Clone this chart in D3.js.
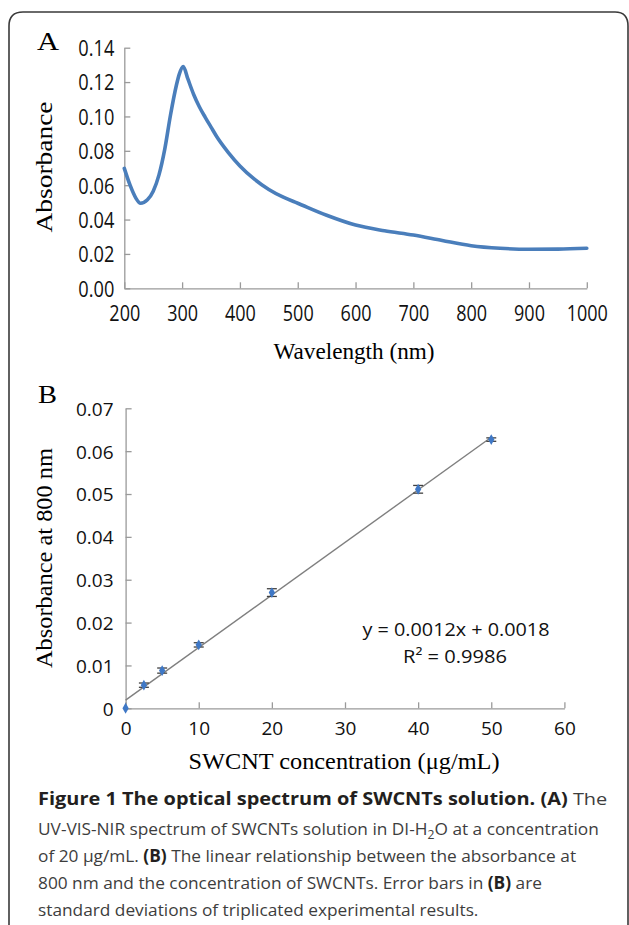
<!DOCTYPE html>
<html><head><meta charset="utf-8">
<script src="https://cdn.jsdelivr.net/npm/d3@7"></script>
<style>
html,body{margin:0;padding:0;background:#fff;}
svg{display:block;}
</style></head>
<body>
<svg id="c" width="629" height="925"></svg>
<script>
// ---------- DATA ----------
// Panel A: UV-VIS-NIR spectrum
const wavelength = [200,210,220,228,240,250,260,270,280,290,295,302,310,320,330,340,350,360,380,400,425,450,475,500,550,600,650,700,750,800,850,900,950,1000];
const absorbance = [0.0698,0.060,0.0525,0.0495,0.0515,0.0565,0.066,0.081,0.101,0.118,0.1245,0.129,0.1218,0.1128,0.1055,0.0995,0.0938,0.0882,0.079,0.0712,0.0635,0.0575,0.053,0.0495,0.0425,0.0368,0.0335,0.031,0.0278,0.0248,0.0233,0.0227,0.0228,0.0233];
const aXTicks = [200,300,400,500,600,700,800,900,1000];
const aYTicks = [0,0.02,0.04,0.06,0.08,0.10,0.12,0.14];
// Panel B: calibration
const concentration = [0,2.5,5,10,20,40,50];
const abs800 = [0,0.0054,0.0088,0.0148,0.0270,0.0511,0.0627];
const abs800Err = [0,0.0005,0.0006,0.0005,0.0009,0.0009,0.0004];
const bXTicks = [0,10,20,30,40,50,60];
const bYTicks = [0,0.01,0.02,0.03,0.04,0.05,0.06,0.07];
const eqLabel = "y = 0.0012x + 0.0018";
const r2Label = "R² = 0.9986";
const captionLines = [
  [["Figure 1 The optical spectrum of SWCNTs solution. ",true],["(A)",true],[" The",false]],
  [["UV-VIS-NIR spectrum of SWCNTs solution in DI-H",false],["2",false,"sub"],["O at a concentration",false,"after"]],
  [["of 20 μg/mL. ",false],["(B)",true],[" The linear relationship between the absorbance at",false]],
  [["800 nm and the concentration of SWCNTs. Error bars in ",false],["(B)",true],[" are",false]],
  [["standard deviations of triplicated experimental results.",false]]
];

// ---------- DRAW ----------
const svg = d3.select("#c");
svg.append("rect").attr("width",629).attr("height",925).attr("fill","#fff");

// frame
svg.append("path")
  .attr("d","M9,930 L9,26 Q9,12 23,12 L615,12 Q628,12 628,26 L628,930")
  .attr("fill","none").attr("stroke","#3a3a3a").attr("stroke-width",1.6);

function fit(sel, w){
  sel.attr("textLength", w).attr("lengthAdjust","spacingAndGlyphs");
}
const axisCol = "#9a9a9a";
function styleAxis(g){
  g.select(".domain").attr("stroke",axisCol).attr("stroke-width",1.3);
  g.selectAll(".tick line").attr("stroke",axisCol).attr("stroke-width",1.3);
  g.selectAll("text").attr("fill","#111");
}

// ----- Panel A -----
const ax = d3.scaleLinear().domain([200,1000]).range([124.3,586.8]);
const ay = d3.scaleLinear().domain([0,0.14]).range([288.3,47.7]);
const gA = svg.append("g");

const gAy = gA.append("g").attr("transform",`translate(${ax(200)},0)`)
  .call(d3.axisLeft(ay).tickValues(aYTicks).tickFormat(d3.format(".2f")).tickSizeInner(-6).tickSizeOuter(0).tickPadding(10));
styleAxis(gAy);
gAy.selectAll("text").attr("font-family","'Open Sans', sans-serif").attr("font-size",22).attr("dy","0.36em")
  .each(function(){ fit(d3.select(this), 36); });

const gAx = gA.append("g").attr("transform",`translate(0,${ay(0)})`)
  .call(d3.axisBottom(ax).tickValues(aXTicks).tickFormat(d3.format("d")).tickSizeInner(-6).tickSizeOuter(0).tickPadding(10));
styleAxis(gAx);
gAx.selectAll("text").attr("font-family","'Open Sans', sans-serif").attr("font-size",22).attr("y",25).attr("dy","0.36em")
  .each(function(d){ fit(d3.select(this), String(d).length*10.3); });

gA.append("path").datum(wavelength.map((w,i)=>[w,absorbance[i]]))
  .attr("d", d3.line().x(d=>ax(d[0])).y(d=>ay(d[1])).curve(d3.curveMonotoneX))
  .attr("fill","none").attr("stroke","#4a7ebb").attr("stroke-width",3.6).attr("stroke-linejoin","round").attr("stroke-linecap","round");

const aL = gA.append("text").attr("x",37).attr("y",50).text("A")
  .attr("font-family","'Liberation Serif', serif").attr("font-size",26);
fit(aL,22);
const aYL = gA.append("text").attr("transform","translate(52,167) rotate(-90)").attr("text-anchor","middle")
  .attr("font-family","'Liberation Serif', serif").attr("font-size",23).text("Absorbance");
fit(aYL,131);
const aXL = gA.append("text").attr("x",354).attr("y",359).attr("text-anchor","middle")
  .attr("font-family","'Liberation Serif', serif").attr("font-size",23).text("Wavelength (nm)");
fit(aXL,161);

// ----- Panel B -----
const bx = d3.scaleLinear().domain([0,60]).range([125.6,564.4]);
const by = d3.scaleLinear().domain([0,0.07]).range([708.3,408.3]);
const gB = svg.append("g");

const gBy = gB.append("g").attr("transform",`translate(${bx(0)},0)`)
  .call(d3.axisLeft(by).tickValues(bYTicks).tickFormat(d=>d===0?"0":d3.format(".2f")(d)).tickSizeInner(-6).tickSizeOuter(0).tickPadding(12));
styleAxis(gBy);
gBy.selectAll("text").attr("font-family","'Open Sans', sans-serif").attr("font-size",19).attr("dy","0.36em");

const gBx = gB.append("g").attr("transform",`translate(0,${by(0)})`)
  .call(d3.axisBottom(bx).tickValues(bXTicks).tickFormat(d3.format("d")).tickSizeInner(-6).tickSizeOuter(0).tickPadding(10));
styleAxis(gBx);
gBx.selectAll("text").attr("font-family","'Open Sans', sans-serif").attr("font-size",19).attr("y",20).attr("dy","0.36em");

// regression line computed from the data
const mx = d3.mean(concentration), my = d3.mean(abs800);
const slope = d3.sum(concentration.map((x,i)=>(x-mx)*(abs800[i]-my))) / d3.sum(concentration.map(x=>(x-mx)*(x-mx)));
const icpt = my - slope*mx;
const xr = d3.extent(concentration);
gB.append("line")
  .attr("x1",bx(xr[0])).attr("y1",by(icpt+slope*xr[0]))
  .attr("x2",bx(xr[1])).attr("y2",by(icpt+slope*xr[1]))
  .attr("stroke","#7f7f7f").attr("stroke-width",1.4);

// error bars
const eb = gB.append("g").attr("stroke","#404040").attr("stroke-width",1.3);
concentration.forEach((c,i)=>{
  if(!abs800Err[i]) return;
  const x = bx(c), y1 = by(abs800[i]-abs800Err[i]), y2 = by(abs800[i]+abs800Err[i]);
  eb.append("line").attr("x1",x).attr("x2",x).attr("y1",y1).attr("y2",y2);
  eb.append("line").attr("x1",x-5).attr("x2",x+5).attr("y1",y1).attr("y2",y1);
  eb.append("line").attr("x1",x-5).attr("x2",x+5).attr("y1",y2).attr("y2",y2);
});
// markers
gB.selectAll("path.pt").data(concentration).join("path").attr("class","pt")
  .attr("d", d3.symbol().type(d3.symbolDiamond).size(34))
  .attr("transform",(d,i)=>`translate(${bx(d)},${by(abs800[i])})`)
  .attr("fill","#3f78c6");

const bL = gB.append("text").attr("x",38).attr("y",403).text("B")
  .attr("font-family","'Liberation Serif', serif").attr("font-size",26);
fit(bL,19);
const bYL = gB.append("text").attr("transform","translate(52,558) rotate(-90)").attr("text-anchor","middle")
  .attr("font-family","'Liberation Serif', serif").attr("font-size",23).text("Absorbance at 800 nm");
fit(bYL,220);
const bXL = gB.append("text").attr("x",344).attr("y",769).attr("text-anchor","middle")
  .attr("font-family","'Liberation Serif', serif").attr("font-size",23).text("SWCNT concentration (μg/mL)");
fit(bXL,311);
const eq = gB.append("text").attr("x",456).attr("y",636).attr("text-anchor","middle")
  .attr("font-family","'Open Sans', sans-serif").attr("font-size",18).attr("fill","#111").text(eqLabel);
fit(eq,187);
const r2 = gB.append("text").attr("x",455).attr("y",663).attr("text-anchor","middle")
  .attr("font-family","'Open Sans', sans-serif").attr("font-size",18).attr("fill","#111").text(r2Label);
fit(r2,104);

// ----- Caption -----
const capBase = [805,835,862,889,916];
const capTexts = captionLines.map((line,li)=>{
  const t = svg.append("text").attr("x",0).attr("y",0)
    .attr("font-family","'Open Sans', sans-serif").attr("font-size",17);
  line.forEach(seg=>{
    const ts = t.append("tspan").text(seg[0])
      .attr("font-weight",seg[1]?"bold":"normal")
      .attr("fill",seg[1]?"#231f20":"#3d3d3d");
    if(seg[2]==="sub"){ ts.attr("font-size",12).attr("dy",4); }
    if(seg[2]==="after"){ ts.attr("dy",-4); }
  });
  return t;
});
const w = i => capTexts[i].node().getBBox().width;
const k1 = 570 / w(0);                       // bold heading line
const kReg = d3.mean([578 / w(1), 523 / w(2)]); // regular body lines
capTexts.forEach((t,li)=>t.attr("transform",`translate(38,${capBase[li]}) scale(${li===0?k1:kReg},1)`));
</script>
</body></html>
